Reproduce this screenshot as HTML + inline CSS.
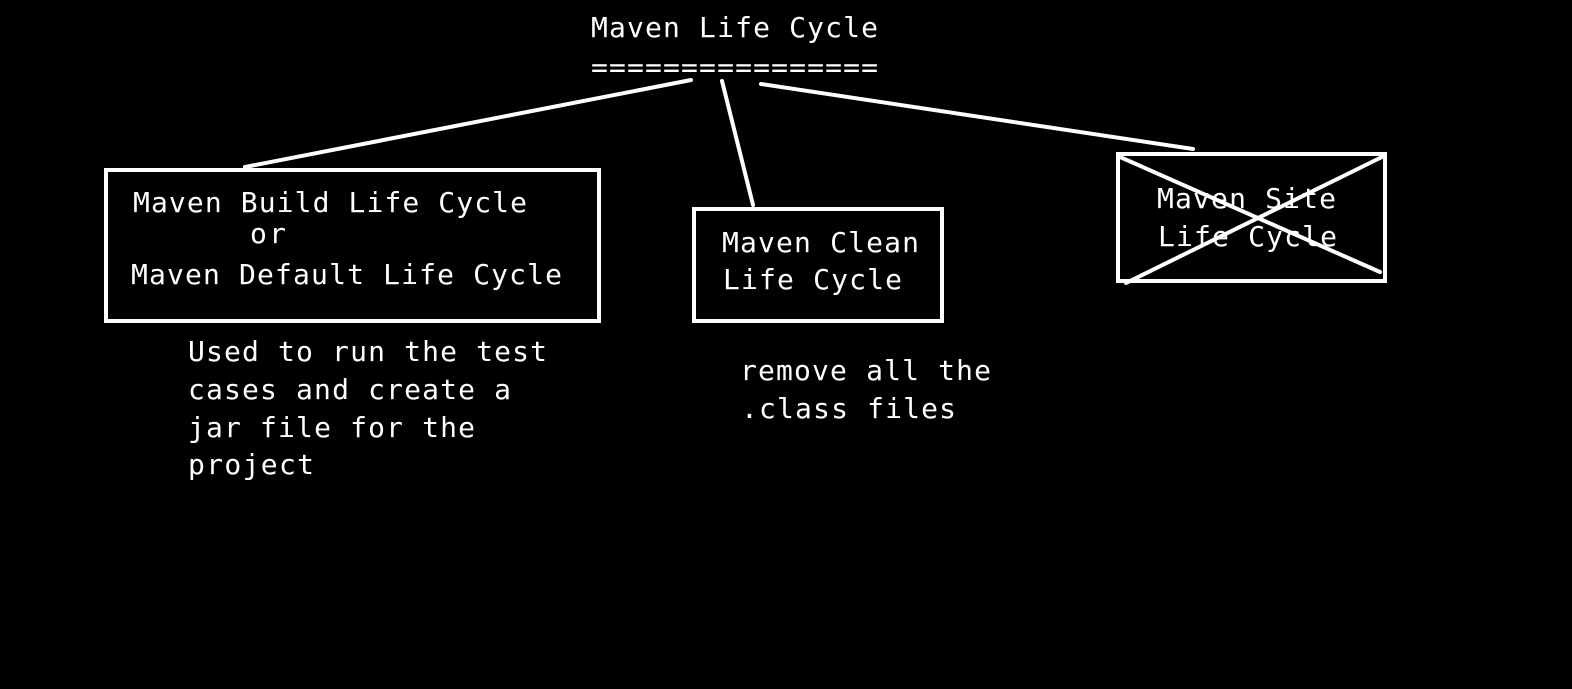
<!DOCTYPE html>
<html><head><style>
html,body{margin:0;padding:0;background:#000;}
svg{display:block}
text{font-family:"DejaVu Sans Mono","Liberation Mono",monospace;font-size:28px;fill:#fff;}
</style></head><body>
<svg width="1572" height="689" viewBox="0 0 1572 689">
<rect width="1572" height="689" fill="#000"/>
<g stroke="#fff" stroke-width="4" fill="none" stroke-linecap="round">
<line x1="691" y1="80" x2="245" y2="167"/>
<line x1="722" y1="81" x2="753" y2="205"/>
<line x1="761" y1="84" x2="1193" y2="149"/>
<rect x="106" y="170" width="493" height="151"/>
<rect x="694" y="209" width="248" height="112"/>
<rect x="1118" y="154" width="267" height="127"/>
<line x1="1120" y1="157" x2="1380" y2="272"/>
<line x1="1126" y1="283" x2="1382" y2="157"/>
</g>
<text x="591" y="37" textLength="287">Maven Life Cycle</text>
<text x="591" y="77" textLength="287">================</text>
<text x="133" y="212" textLength="394">Maven Build Life Cycle</text>
<text x="250" y="243" textLength="36">or</text>
<text x="131" y="284" textLength="431">Maven Default Life Cycle</text>
<text x="722" y="252" textLength="197">Maven Clean</text>
<text x="723" y="289" textLength="179">Life Cycle</text>
<text x="1157" y="208" textLength="179">Maven Site</text>
<text x="1158" y="246" textLength="179">Life Cycle</text>
<text x="188" y="361" textLength="359">Used to run the test</text>
<text x="188" y="399" textLength="323">cases and create a</text>
<text x="188" y="437" textLength="287">jar file for the</text>
<text x="188" y="474" textLength="126">project</text>
<text x="740" y="380" textLength="251">remove all the</text>
<text x="741" y="418" textLength="215">.class files</text>
</svg>
</body></html>
